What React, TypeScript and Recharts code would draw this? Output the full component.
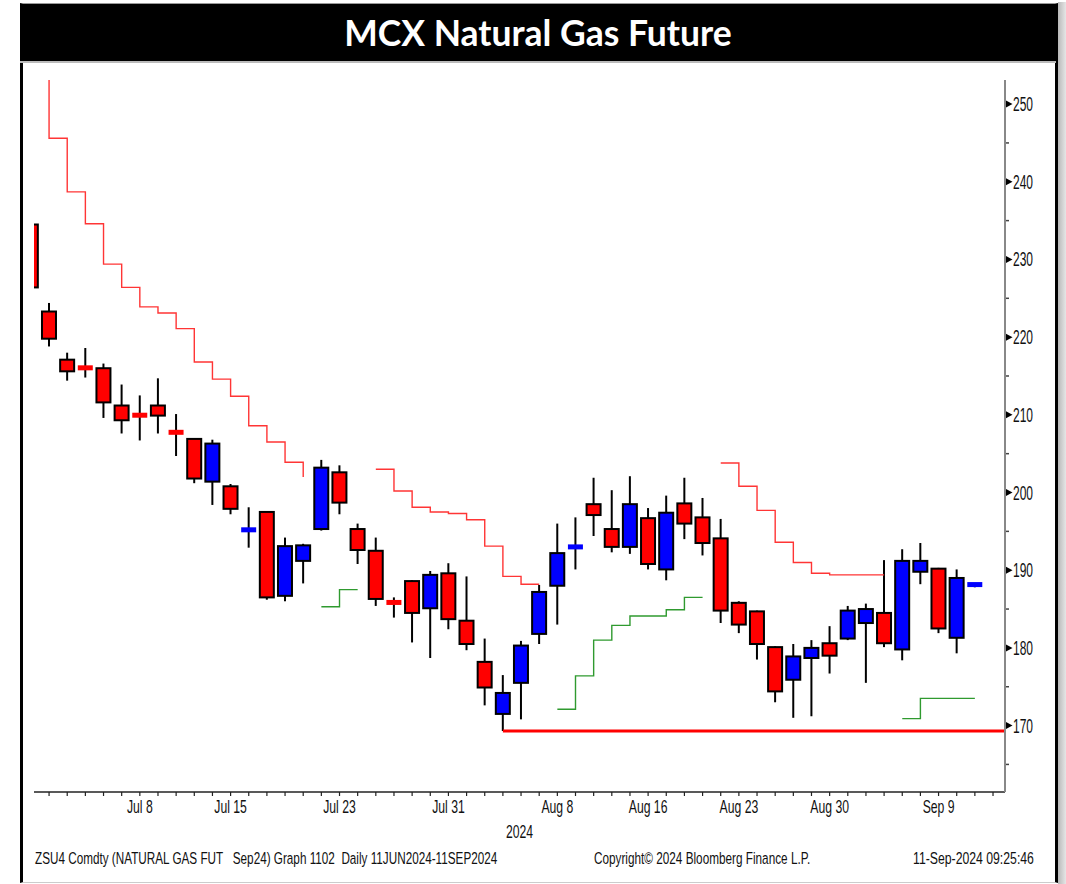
import { ComposedChart, Bar, Line, XAxis, YAxis, ReferenceLine } from 'recharts'

// trading days shown on the chart (Aug 15 is a holiday)
const dates = [
  'Jun 28', 'Jul 1', 'Jul 2', 'Jul 3', 'Jul 4', 'Jul 5', 'Jul 8', 'Jul 9', 'Jul 10', 'Jul 11', 'Jul 12',
  'Jul 15', 'Jul 16', 'Jul 17', 'Jul 18', 'Jul 19', 'Jul 22', 'Jul 23', 'Jul 24', 'Jul 25', 'Jul 26',
  'Jul 29', 'Jul 30', 'Jul 31', 'Aug 1', 'Aug 2', 'Aug 5', 'Aug 6', 'Aug 7', 'Aug 8', 'Aug 9',
  'Aug 12', 'Aug 13', 'Aug 14', 'Aug 16', 'Aug 19', 'Aug 20', 'Aug 21', 'Aug 22', 'Aug 23',
  'Aug 26', 'Aug 27', 'Aug 28', 'Aug 29', 'Aug 30', 'Sep 2', 'Sep 3', 'Sep 4', 'Sep 5', 'Sep 6',
  'Sep 9', 'Sep 10', 'Sep 11',
]

const open = [
  234.5, 223.3, 217.1, 216.2, 216.0, 211.2, 210.1, 211.2, 207.9, 206.9, 201.4,
  200.8, 195.1, 197.5, 186.7, 191.2, 195.3, 202.6, 195.3, 192.5, 186.0,
  188.6, 185.1, 189.6, 183.5, 178.2, 171.5, 175.5, 181.8, 188.0, 192.9,
  198.5, 195.3, 193.0, 196.7, 190.1, 198.6, 196.8, 194.1, 185.8,
  184.7, 180.1, 175.9, 178.7, 180.6, 181.2, 183.2, 184.5, 179.8, 189.8,
  190.2, 181.3, 188.1,
]
const high = [
  234.6, 224.4, 218.0, 218.6, 216.6, 213.9, 212.5, 214.7, 210.1, 207.0, 206.8,
  201.1, 198.1, 197.6, 194.2, 193.4, 204.2, 203.5, 196.0, 194.2, 186.5,
  188.7, 189.9, 190.9, 189.2, 181.2, 176.5, 180.9, 188.1, 196.0, 196.8,
  201.9, 200.3, 202.1, 198.0, 199.6, 201.9, 199.3, 196.6, 186.0,
  184.8, 180.2, 180.5, 181.0, 182.8, 185.4, 185.7, 191.3, 192.7, 193.5,
  190.3, 190.1, 188.3,
]
const low = [
  226.2, 218.8, 214.4, 214.8, 209.6, 207.6, 206.7, 207.6, 204.7, 201.2, 198.4,
  197.2, 192.9, 186.2, 186.0, 188.3, 195.1, 197.2, 190.8, 185.4, 183.9,
  180.7, 178.7, 182.4, 179.7, 172.6, 169.3, 170.8, 180.5, 183.0, 190.1,
  194.4, 192.3, 192.1, 190.1, 188.7, 194.0, 191.9, 183.2, 181.9,
  178.5, 173.0, 171.0, 171.2, 176.7, 181.0, 175.5, 180.1, 178.4, 188.2,
  181.9, 179.3, 187.8,
]
const close = [
  226.4, 219.8, 215.6, 215.9, 211.6, 209.3, 209.8, 209.9, 207.6, 201.8, 206.3,
  197.9, 195.3, 186.5, 193.1, 193.2, 203.2, 198.7, 192.6, 186.3, 185.7,
  184.5, 189.4, 183.7, 180.5, 174.9, 174.2, 180.3, 187.2, 192.2, 193.1,
  197.1, 193.0, 198.5, 190.8, 197.4, 196.0, 193.5, 184.8, 183.0,
  180.5, 174.4, 178.9, 180.0, 179.0, 184.8, 185.0, 180.6, 191.2, 191.2,
  182.5, 189.0, 188.2,
]

// stepped trend stops
const stopHigh = [
  258.0, 245.6, 238.7, 234.6, 229.4, 226.4, 223.9, 223.1, 221.1, 216.8, 214.6,
  212.4, 208.6, 206.5, 203.9, 202.0, null, null, null, 203.0, 200.2,
  198.1, 197.5, 197.3, 196.5, 193.1, 189.2, 188.2, 188.2, null, null,
  null, null, null, null, null, null, null, 203.8, 200.8,
  197.7, 193.6, 191.0, 189.6, 189.4, 189.4, 189.4, 189.4, null, null,
  null, null, null,
]
const stopLow = [
  null, null, null, null, null, null, null, null, null, null, null,
  null, null, null, null, null, 185.3, 187.5, 187.5, null, null,
  null, null, null, null, null, null, null, null, 172.1, 176.4,
  181.0, 182.9, 184.1, 184.1, 184.9, 186.5, 186.5, null, null,
  null, null, null, null, null, null, null, null, 170.9, 173.5,
  173.5, 173.5, 173.5,
]

const supportLevel = 169.3
const supportFrom = 'Aug 5'

const xLabels = ['Jul 8', 'Jul 15', 'Jul 23', 'Jul 31', 'Aug 8', 'Aug 16', 'Aug 23', 'Aug 30', 'Sep 9']
const yTicks = [165, 170, 175, 180, 185, 190, 195, 200, 205, 210, 215, 220, 225, 230, 235, 240, 245, 250]

const X_MIN = 0.17
const X_MAX = 53.66
const xTicks = Array.from({ length: dates.length }, (_, i) => i + 1)

const rows = dates.map((date, i) => ({
  i,
  date,
  open: open[i],
  high: high[i],
  low: low[i],
  close: close[i],
  stopHigh: stopHigh[i],
  stopLow: stopLow[i],
}))

const BB_FONT = '"Liberation Sans", Arial, sans-serif'

function BText({ x, y, size, sx, anchor = 'start', children }: any) {
  return (
    <text
      transform={`translate(${x},${y}) scale(${sx},1)`}
      textAnchor={anchor}
      fontFamily={BB_FONT}
      fontSize={size}
      fill="#111"
      style={{ whiteSpace: 'pre' }}
    >
      {children}
    </text>
  )
}

function Candle(props: any) {
  const { x, y, width, height, payload } = props
  const { open, close, high, low } = payload
  const cx = x + width / 2
  const py = (v: number) => y + ((high - v) / (high - low)) * height
  const up = close >= open
  const color = up ? '#0000FF' : '#FF0000'
  const top = py(Math.max(open, close))
  const bot = py(Math.min(open, close))
  const bodyH = bot - top
  return (
    <g>
      <line x1={cx} x2={cx} y1={y} y2={y + height} stroke="#000" strokeWidth={2} />
      {bodyH < 3 ? (
        <rect x={cx - 7.5} y={(top + bot) / 2 - 2.5} width={15} height={5} fill={color} />
      ) : (
        <rect x={cx - 7} y={top} width={14} height={bodyH} fill={color} stroke="#000" strokeWidth={2} />
      )}
    </g>
  )
}

function XTick({ x, y, payload }: any) {
  const d = dates[payload.value]
  if (!d || !xLabels.includes(d)) return null
  return <BText x={x} y={y + 17} size={18.5} sx={0.66} anchor="middle">{d}</BText>
}

function YTick({ x, y, payload }: any) {
  const v = payload.value
  if (v % 10 !== 0) {
    return <line x1={x + 1} x2={x + 4} y1={y} y2={y} stroke="#444" strokeWidth={1.5} />
  }
  return (
    <g>
      <path d={`M${x + 1},${y - 3.5}L${x + 7.5},${y}L${x + 1},${y + 3.5}Z`} fill="#000" />
      <BText x={x + 8} y={y + 7} size={20} sx={0.6}>{v}</BText>
    </g>
  )
}

export default function App() {
  return (
    <div style={{ position: 'absolute', left: 0, top: 0, width: 1066, height: 884, background: '#fff' }}>
      {/* frame */}
      <div style={{ position: 'absolute', left: 1058, top: 2, width: 8, height: 882, background: 'linear-gradient(90deg,#b9b9b9,#e6e6e6)' }} />
      <div
        style={{
          position: 'absolute', left: 20, top: 3, width: 1032, height: 878,
          borderLeft: '3px solid #000', borderRight: '3px solid #000',
          borderTop: '1px solid #999', borderBottom: '1px solid #ccc', background: '#fff',
        }}
      />
      <div
        style={{
          position: 'absolute', left: 20, top: 4, width: 1036, height: 57, background: '#000',
          borderBottom: '2px solid #bbb', color: '#fff', fontFamily: 'Lato, "Open Sans", sans-serif',
          fontWeight: 700, fontSize: 35.5, lineHeight: '58px', textAlign: 'center',
        }}
      >
        MCX Natural Gas Future
      </div>

      <div style={{ position: 'absolute', left: 0, top: 0 }}>
        <ComposedChart width={1066} height={884} data={rows} margin={{ top: 80, right: 0, left: 34, bottom: 0 }}>
          <XAxis
            type="number"
            dataKey="i"
            domain={[X_MIN, X_MAX]}
            allowDataOverflow
            ticks={xTicks}
            interval={0}
            tick={<XTick />}
            tickSize={4}
            tickMargin={0}
            tickLine={{ stroke: '#222', strokeWidth: 1.2 }}
            axisLine={{ stroke: '#222', strokeWidth: 1.5 }}
            height={92}
            label={({ viewBox }: any) => (
              <BText x={viewBox.x + viewBox.width / 2} y={viewBox.y + 46} size={18.5} sx={0.66} anchor="middle">2024</BText>
            )}
          />
          <YAxis
            orientation="right"
            type="number"
            domain={[161.45, 253.1]}
            allowDataOverflow
            ticks={yTicks}
            interval={0}
            tick={<YTick />}
            tickSize={0}
            tickMargin={0}
            tickLine={false}
            axisLine={{ stroke: '#888', strokeWidth: 2 }}
            width={61}
          />
          <ReferenceLine
            segment={[
              { x: dates.indexOf(supportFrom), y: supportLevel },
              { x: X_MAX, y: supportLevel },
            ]}
            stroke="#FF0000"
            strokeWidth={3}
          />
          <Line type="stepAfter" dataKey="stopHigh" stroke="#FF3535" strokeWidth={1.4} dot={false} connectNulls={false} isAnimationActive={false} />
          <Line type="stepAfter" dataKey="stopLow" stroke="#2F9A2F" strokeWidth={1.4} dot={false} connectNulls={false} isAnimationActive={false} />
          <Bar dataKey={(d: any) => [d.low, d.high]} barSize={16} shape={<Candle />} isAnimationActive={false} />
        </ComposedChart>
      </div>

      {/* footer */}
      <svg style={{ position: 'absolute', left: 0, top: 0 }} width={1066} height={884}>
        <BText x={35} y={864} size={17} sx={0.69}>
          ZSU4 Comdty (NATURAL GAS FUT   Sep24) Graph 1102  Daily 11JUN2024-11SEP2024
        </BText>
        <BText x={594} y={864} size={17} sx={0.692}>
          Copyright© 2024 Bloomberg Finance L.P.
        </BText>
        <BText x={913} y={864} size={17} sx={0.721}>
          11-Sep-2024 09:25:46
        </BText>
      </svg>
    </div>
  )
}
